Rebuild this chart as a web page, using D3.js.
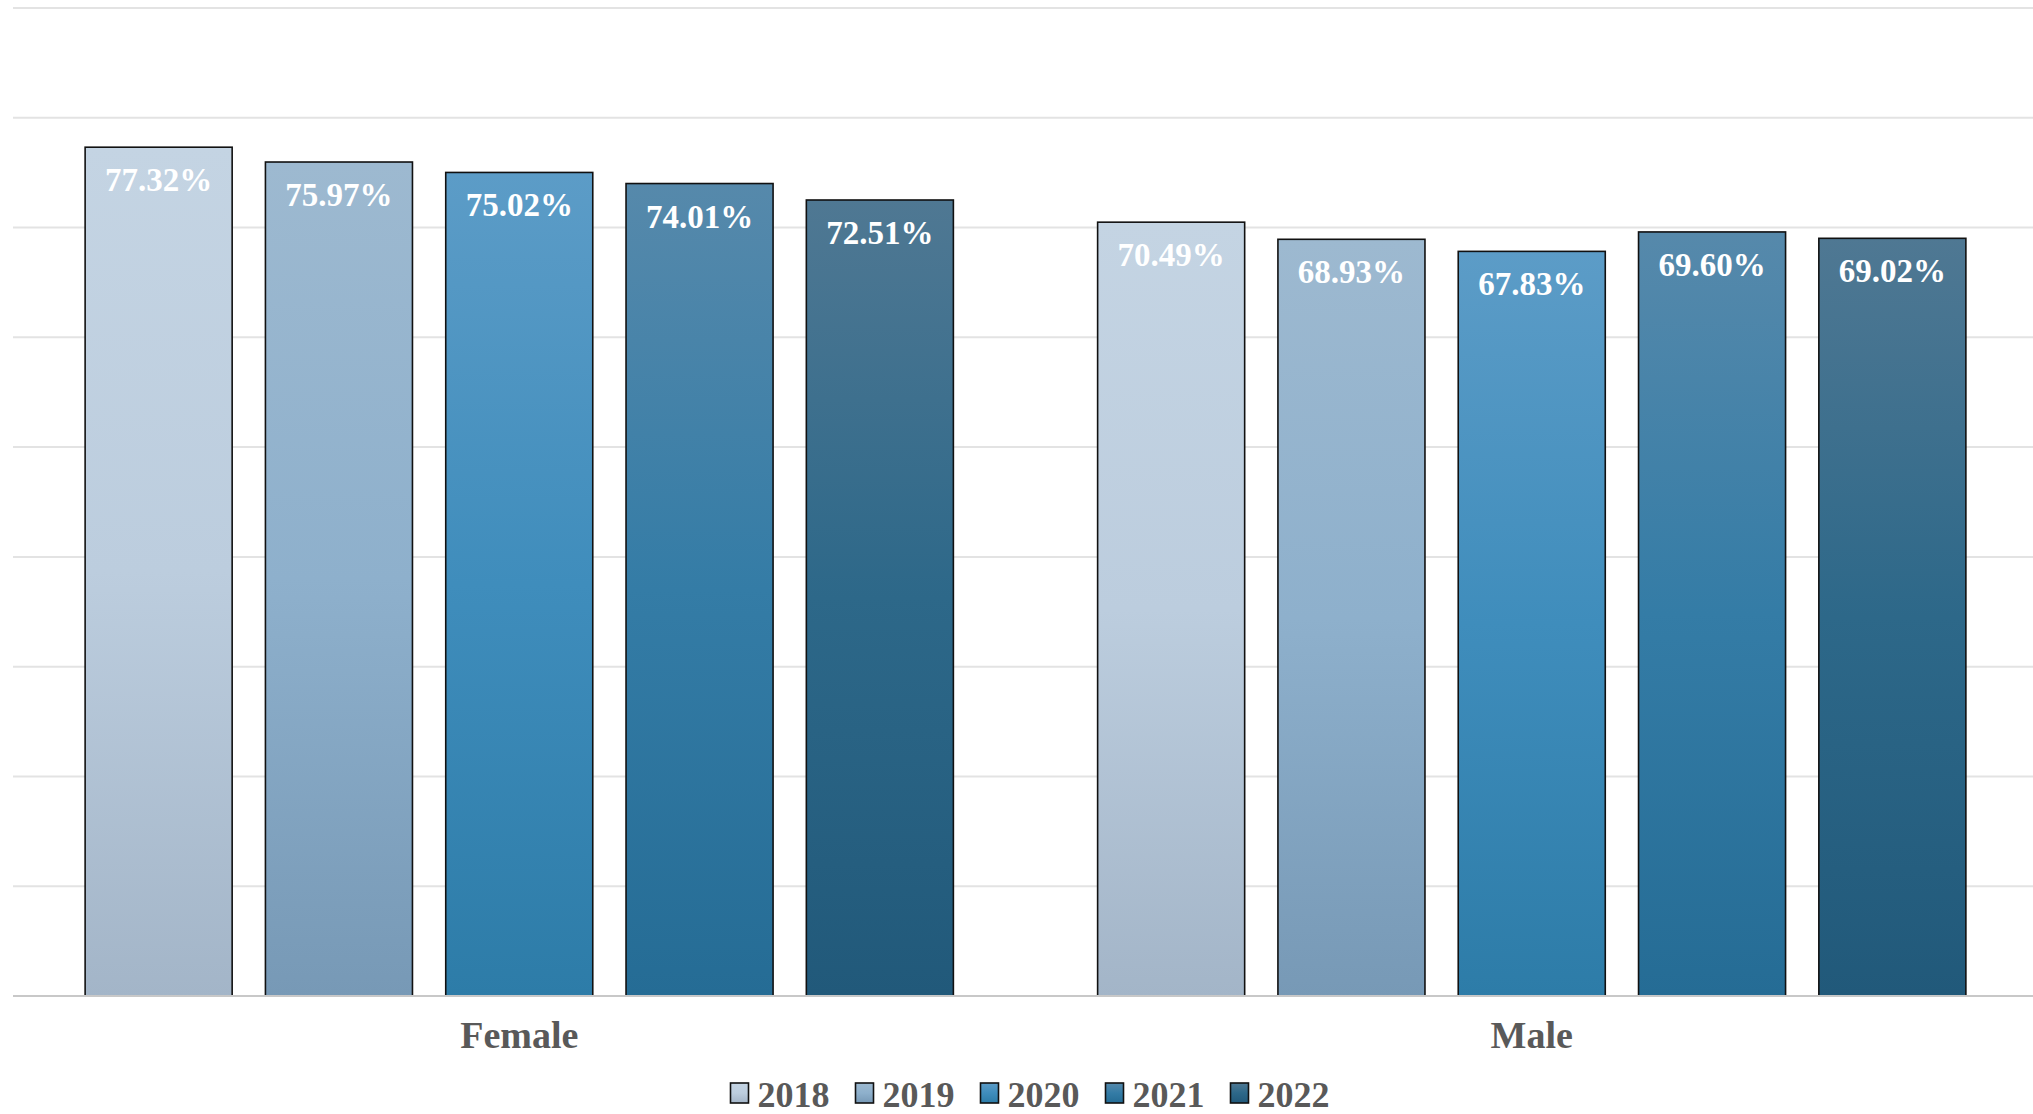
<!DOCTYPE html>
<html>
<head>
<meta charset="utf-8">
<script src="https://cdn.jsdelivr.net/npm/d3@7"></script>
<style>
  html, body { margin: 0; padding: 0; background: #ffffff; }
  svg { display: block; }
  text { font-family: "Liberation Serif", "DejaVu Serif", serif; font-weight: bold; }
</style>
</head>
<body>
<svg id="chart" width="2033" height="1114"></svg>
<script>
// ---- data ----
const categories = ["Female", "Male"];
const years = ["2018", "2019", "2020", "2021", "2022"];
const femaleValues = [77.32, 75.97, 75.02, 74.01, 72.51];
const maleValues = [70.49, 68.93, 67.83, 69.60, 69.02];
const gridTicks = [0, 10, 20, 30, 40, 50, 60, 70, 80, 90];

// ---- styles ----
const gradStops = {
  "2018": ["#c4d4e3", "#bccdde", "#a3b5c8"],
  "2019": ["#9db9d0", "#8eb0cc", "#7799b6"],
  "2020": ["#5c9cc7", "#3f8dbc", "#2d7ca8"],
  "2021": ["#5689ab", "#347ca6", "#256c95"],
  "2022": ["#4f7893", "#2d6889", "#21597a"]
};

const seriesByCat = { "Female": femaleValues, "Male": maleValues };
const svg = d3.select("#chart");
const W = 2033;

const x0 = d3.scaleBand().domain(categories).range([13, 2038]).padding(0);
const x1 = d3.scaleBand().domain(years).range([0, x0.bandwidth()])
  .paddingInner(0.1845).paddingOuter(0.4);
const y = d3.scaleLinear().domain([0, 90]).range([996, 8]);

// gradients
const defs = svg.append("defs");
years.forEach(yr => {
  const g = defs.append("linearGradient").attr("id", "g" + yr)
    .attr("x1", 0).attr("y1", 0).attr("x2", 0).attr("y2", 1);
  g.append("stop").attr("offset", "0%").attr("stop-color", gradStops[yr][0]);
  g.append("stop").attr("offset", "50%").attr("stop-color", gradStops[yr][1]);
  g.append("stop").attr("offset", "100%").attr("stop-color", gradStops[yr][2]);
});

// gridlines
svg.append("g").selectAll("line").data(gridTicks).join("line")
  .attr("x1", 13).attr("x2", W)
  .attr("y1", d => y(d)).attr("y2", d => y(d))
  .attr("stroke", "#e3e3e3").attr("stroke-width", 2);

// bars
const groups = svg.append("g").selectAll("g").data(categories).join("g")
  .attr("transform", c => `translate(${x0(c)},0)`);

groups.selectAll("rect").data(c => years.map((yr, i) => ({ yr, v: seriesByCat[c][i] })))
  .join("rect")
  .attr("x", d => x1(d.yr))
  .attr("width", x1.bandwidth())
  .attr("y", d => y(d.v))
  .attr("height", d => y(0) - y(d.v))
  .attr("fill", d => `url(#g${d.yr})`)
  .attr("stroke", "#111111")
  .attr("stroke-width", 1.6);

// baseline
svg.append("line").attr("x1", 13).attr("x2", W)
  .attr("y1", y(0)).attr("y2", y(0))
  .attr("stroke", "#c8c8c8").attr("stroke-width", 2);

// value labels
groups.selectAll("text.val").data(c => years.map((yr, i) => ({ yr, v: seriesByCat[c][i] })))
  .join("text").attr("class", "val")
  .attr("x", d => x1(d.yr) + x1.bandwidth() / 2)
  .attr("y", d => y(d.v) + 44)
  .attr("text-anchor", "middle")
  .attr("fill", "#ffffff")
  .attr("font-size", 33)
  .text(d => d.v.toFixed(2) + "%");

// category labels
svg.append("g").selectAll("text").data(categories).join("text")
  .attr("x", c => x0(c) + x0.bandwidth() / 2)
  .attr("y", 1048)
  .attr("text-anchor", "middle")
  .attr("fill", "#595959")
  .attr("font-size", 38)
  .text(c => c);

// legend
const legend = svg.append("g");
const items = legend.selectAll("g").data(years).join("g");
items.append("rect")
  .attr("x", 0).attr("y", -24).attr("width", 18).attr("height", 20)
  .attr("fill", d => `url(#g${d})`)
  .attr("stroke", "#111111").attr("stroke-width", 1.6);
items.append("text")
  .attr("x", 27).attr("y", 0)
  .attr("fill", "#595959")
  .attr("font-size", 36)
  .text(d => d);
const widths = [];
items.each(function () {
  const w = 27 + d3.select(this).select("text").node().getComputedTextLength();
  widths.push(w);
});
const gap = 26;
const total = d3.sum(widths) + gap * (widths.length - 1);
let start = 1030 - total / 2;
items.attr("transform", (d, i) => {
  const t = `translate(${start},1107)`;
  start += widths[i] + gap;
  return t;
});
</script>
</body>
</html>
